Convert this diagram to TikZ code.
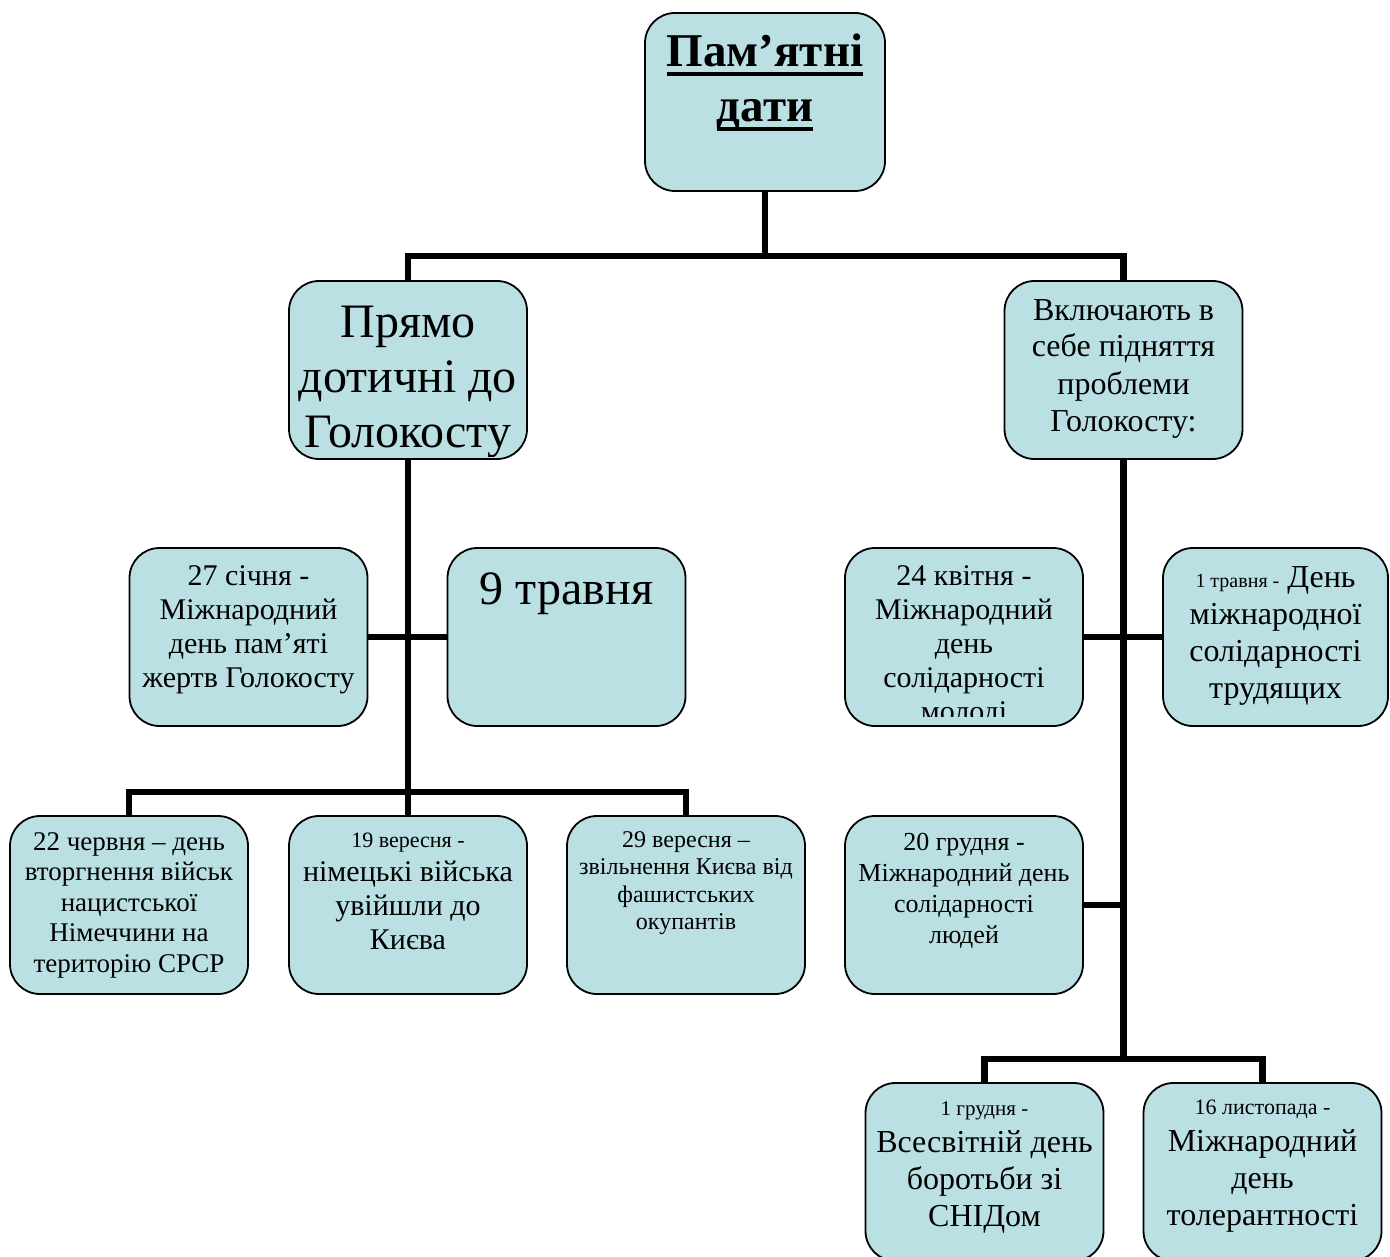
\documentclass[tikz,border=0pt]{standalone}
\usepackage{fontspec}
\setmainfont{Liberation Serif}
\usetikzlibrary{backgrounds}
\definecolor{boxfill}{RGB}{186,224,228}
\newcommand\setfz[2]{\fontsize{#1}{#2}\selectfont}
\newsavebox\ulbox
\newcommand\myul[1]{\sbox\ulbox{#1}\rlap{\rule[-9.5pt]{\wd\ulbox}{4pt}}\usebox\ulbox}
\tikzset{
  box/.style={draw=black, line width=1.8pt, fill=boxfill, rounded corners=30pt,
    minimum width=238pt, minimum height=178pt, inner sep=0pt, outer sep=0pt},
  txt/.style={anchor=north, align=center, inner sep=0pt, outer sep=0pt, text=black},
  conn/.style={line width=6.5pt, line join=miter, line cap=butt, draw=black},
}
\begin{document}
\begin{tikzpicture}[x=1pt,y=-1pt]
\useasboundingbox (0,0) rectangle (1390,1257);
\clip (0,0) rectangle (1390,1257);
% boxes
\node[box, minimum width=240pt] (top) at (765,102) {};
\node[box] (L) at (408,370) {};
\node[box] (R) at (1123.5,370) {};
\node[box] (s27) at (248.5,637) {};
\node[box] (m9) at (566.5,637) {};
\node[box] (k24) at (964,637) {};
\node[box, minimum width=225pt] (t1) at (1275.5,637) {};
\node[box] (c22) at (129,905) {};
\node[box] (v19) at (408,905) {};
\node[box] (v29) at (686,905) {};
\node[box] (g20) at (964,905) {};
\node[box] (g1) at (984.5,1172) {};
\node[box] (l16) at (1262.5,1172) {};
% texts
\node[txt, font=\setfz{47}{55}\bfseries] (ttop) at (765,{67-0.8*47})
  {\rule{0pt}{.8em}\myul{Пам’ятні}\\\myul{дати}};
\begin{scope}
\clip (289,281) rectangle (527,456);
\node[txt, font=\setfz{48}{55}] (tL) at (408,{337-0.8*48})
  {\rule{0pt}{.8em}Прямо\\дотичні до\\Голокосту};
\end{scope}
\node[txt, font=\setfz{32}{37}] (tR) at (1123.5,{320-0.8*32})
  {\rule{0pt}{.8em}Включають в\\себе підняття\\проблеми\\Голокосту:};
\node[txt, font=\setfz{30}{34}] (ts27) at (248.5,{585-0.8*30})
  {\rule{0pt}{.8em}27 січня -\\Міжнародний\\день пам’яті\\жертв Голокосту};
\node[txt, font=\setfz{48}{55}] (tm9) at (566.5,{604-0.8*48})
  {\rule{0pt}{.8em}9 травня};
\begin{scope}
\clip (845,548) rectangle (1083,716);
\node[txt, font=\setfz{30}{34}] (tk24) at (964,{585-0.8*30})
  {\rule{0pt}{.8em}24 квітня -\\Міжнародний\\день\\солідарності\\молоді};
\end{scope}
\node[txt, font=\setfz{32}{37}] (tt1) at (1275.5,{587-0.8*32})
  {\rule{0pt}{.8em}{\setfz{20}{37}1 травня -} День\\міжнародної\\солідарності\\трудящих};
\node[txt, font=\setfz{27}{30.5}] (tc22) at (129,{850-0.8*27})
  {\rule{0pt}{.8em}22 червня – день\\вторгнення військ\\нацистської\\Німеччини на\\територію СРСР};
\node[txt, font=\setfz{30}{34}] (tv19) at (408,{847-0.8*30})
  {\rule{0pt}{.8em}{\setfz{22}{34}19 вересня -}\\німецькі війська\\увійшли до\\Києва};
\node[txt, font=\setfz{24}{27.5}] (tv29) at (686,{847-0.8*24})
  {\rule{0pt}{.8em}29 вересня –\\звільнення Києва від\\фашистських\\окупантів};
\node[txt, font=\setfz{26}{31}] (tg20) at (964,{850-0.8*26})
  {\rule{0pt}{.8em}20 грудня -\\Міжнародний день\\солідарності\\людей};
\node[txt, font=\setfz{32}{37}] (tg1) at (984.5,{1115-0.8*32})
  {\rule{0pt}{.8em}{\setfz{21}{37}1 грудня -}\\Всесвітній день\\боротьби зі\\СНІДом};
\node[txt, font=\setfz{32}{37}] (tl16) at (1262.5,{1114-0.8*32})
  {\rule{0pt}{.8em}{\setfz{22}{37}16 листопада -}\\Міжнародний\\день\\толерантності};
% connectors
\begin{pgfonlayer}{background}
\fill[white] (0,0) rectangle (1390,1257);
\draw[conn] (top.south) -- ++(0,65);
\draw[conn] (L.north) -- ++(0,-25) -| (R.north);
\draw[conn] (L.south) -- (v19.north);
\draw[conn] (c22.north) -- ++(0,-24) -| (v29.north);
\draw[conn] (s27.east) -- (m9.west);
\draw[conn] (R.south) -- ++(0,600);
\draw[conn] (k24.east) -- (t1.west);
\draw[conn] (g20.east) -- (g20.east -| R.south);
\draw[conn] (g1.north) -- ++(0,-24) -| (l16.north);
\end{pgfonlayer}
\end{tikzpicture}
\end{document}
